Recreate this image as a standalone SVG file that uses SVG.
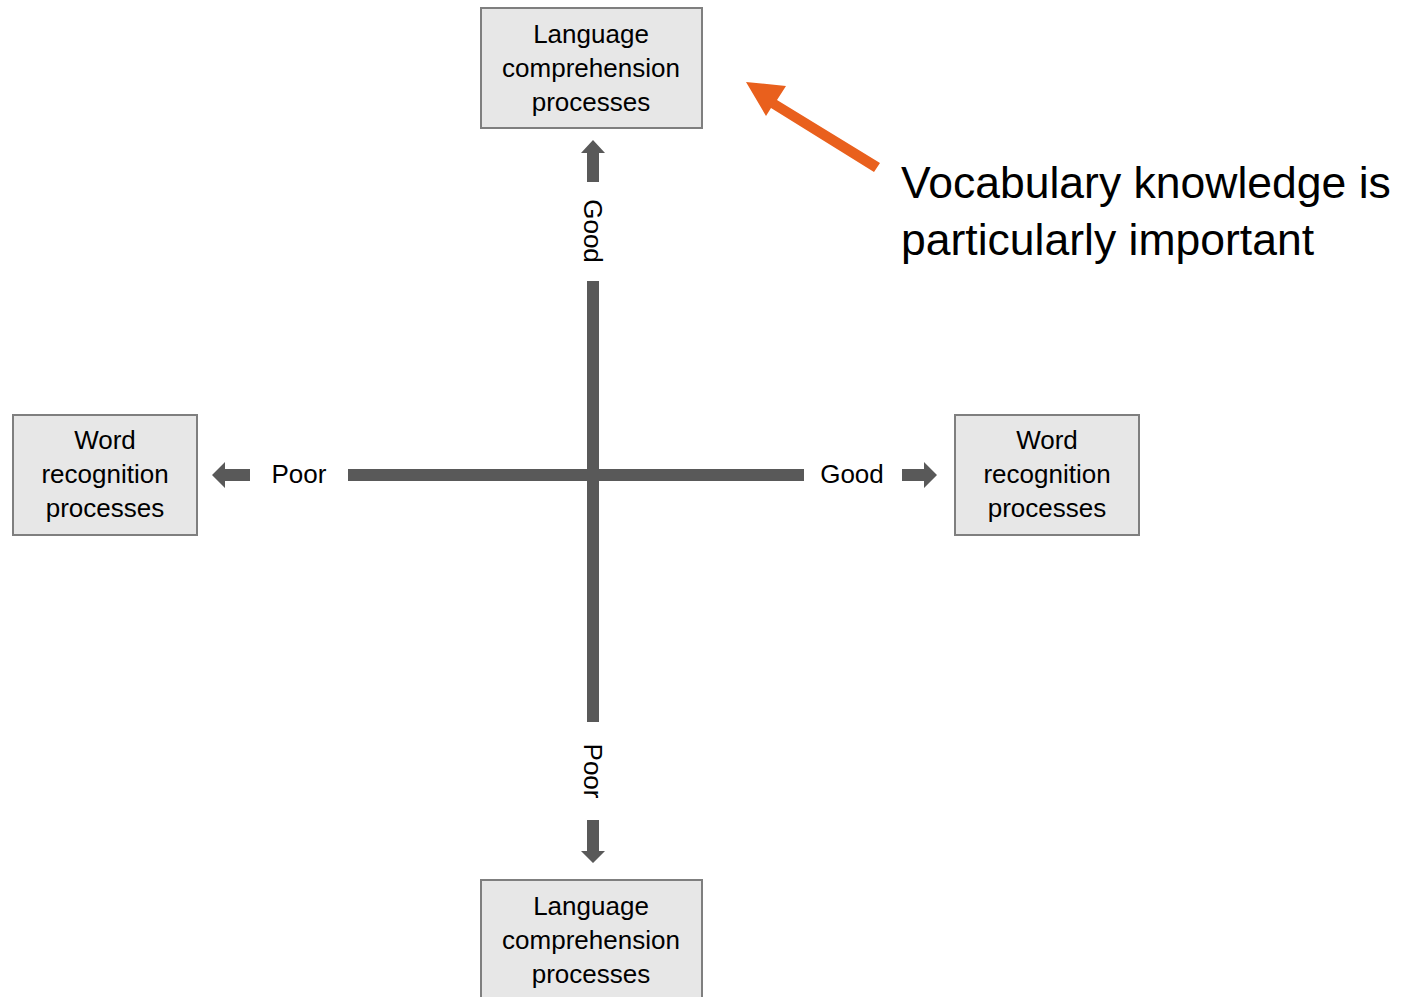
<svg xmlns="http://www.w3.org/2000/svg" width="1408" height="997" viewBox="0 0 1408 997">
<style>
.box{fill:#E7E7E7;stroke:#7F7F7F;stroke-width:2}
.t{font-family:"Liberation Sans",Arial,sans-serif;font-size:26px;fill:#000;text-anchor:middle}
.bar{fill:#595959}
.big{font-family:"Liberation Sans",Arial,sans-serif;font-size:44.5px;fill:#000}
</style>
<rect width="1408" height="997" fill="#fff"/>
<g id="connectors">
<rect class="bar" x="587" y="281" width="12" height="441"/>
<rect class="bar" x="348" y="469" width="456" height="12"/>
<path class="bar" d="M593,140 L605,153 L599,153 L599,182 L587,182 L587,153 L581,153 Z"/>
<path class="bar" d="M593,863 L605,851 L599,851 L599,820 L587,820 L587,851 L581,851 Z"/>
<path class="bar" d="M212,475 L225,462 L225,469 L250,469 L250,481 L225,481 L225,488 Z"/>
<path class="bar" d="M937,475 L924,462 L924,469 L902,469 L902,481 L924,481 L924,488 Z"/>
<text class="t" transform="translate(593,231) rotate(90)" dominant-baseline="central">Good</text>
<text class="t" transform="translate(593,771) rotate(90)" dominant-baseline="central">Poor</text>
<text class="t" x="299" y="483">Poor</text>
<text class="t" x="852" y="483">Good</text>
<path fill="#E9601D" d="M746,82 L786,86 L777,100 L880,163 L874,172 L771,108 L766,116 Z"/>
</g>
<g id="top">
<rect class="box" x="481" y="8" width="221" height="120"/>
<text class="t" x="591" y="43">Language</text>
<text class="t" x="591" y="77">comprehension</text>
<text class="t" x="591" y="111">processes</text>
</g>
<g id="bottom">
<rect class="box" x="481" y="880" width="221" height="125"/>
<text class="t" x="591" y="915">Language</text>
<text class="t" x="591" y="949">comprehension</text>
<text class="t" x="591" y="983">processes</text>
</g>
<g id="left">
<rect class="box" x="13" y="415" width="184" height="120"/>
<text class="t" x="105" y="449">Word</text>
<text class="t" x="105" y="483">recognition</text>
<text class="t" x="105" y="517">processes</text>
</g>
<g id="right">
<rect class="box" x="955" y="415" width="184" height="120"/>
<text class="t" x="1047" y="449">Word</text>
<text class="t" x="1047" y="483">recognition</text>
<text class="t" x="1047" y="517">processes</text>
</g>
<g id="note">
<text class="big" x="901" y="198">Vocabulary knowledge is</text>
<text class="big" x="901" y="255">particularly important</text>
</g>
</svg>
